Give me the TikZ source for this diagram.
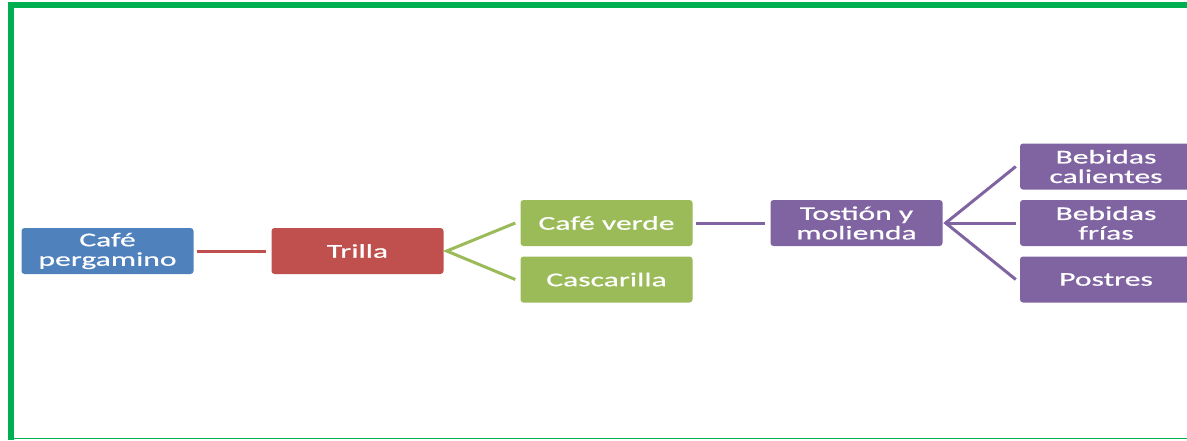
\documentclass[tikz,border=0pt]{standalone}
\usepackage{fontspec}
\newfontfamily\boxfont[FakeStretch=1.62,FakeBold=0.6]{Carlito}
\definecolor{cblue}{HTML}{4F81BD}
\definecolor{cred}{HTML}{C0504D}
\definecolor{cgreen}{HTML}{9BBB59}
\definecolor{cpurple}{HTML}{8064A2}
\definecolor{frame}{HTML}{00B050}
\tikzset{
  box/.style={rectangle, rounded corners=3pt, minimum width=172pt, minimum height=46pt,
    inner sep=0pt, text=white, align=center, font=\boxfont\fontsize{19.5}{19.5}\selectfont},
  link/.style={line width=3pt}
}
\begin{document}
\begin{tikzpicture}[x=1pt,y=-1pt]
\useasboundingbox (0,0) rectangle (1187,440);
% frame
\fill[frame] (8,2) rectangle (1187,8);
\fill[frame] (8,2) rectangle (14,440);
\fill[frame] (14,437.6) rectangle (1187,439.2);
% nodes
\node[box, fill=cblue] (perg) at (107.5,251) {Café\\pergamino};
\node[box, fill=cred] (trilla) at (357.5,251) {Trilla};
\node[box, fill=cgreen] (verde) at (606.5,223) {Café verde};
\node[box, fill=cgreen] (casc) at (606.5,279.5) {Cascarilla};
\node[box, fill=cpurple] (tost) at (856.5,223) {Tostión y\\molienda};
\node[box, fill=cpurple] (cal) at (1106,166.5) {Bebidas\\calientes};
\node[box, fill=cpurple] (fri) at (1106,223) {Bebidas\\frías};
\node[box, fill=cpurple] (pos) at (1106,279.5) {Postres};
% connectors
\coordinate (tfork) at ([xshift=3pt]trilla.east);
\coordinate (pfork) at ([xshift=3pt]tost.east);
\draw[link, cred] ([xshift=3pt]perg.east) -- ([xshift=-5pt]trilla.west);
\draw[link, cgreen] ([xshift=-5pt]verde.west) -- (tfork) -- ([xshift=-5pt]casc.west);
\draw[link, cpurple] ([xshift=3pt]verde.east) -- ([xshift=-5pt]tost.west);
\draw[link, cpurple] ([xshift=-4pt]cal.west) -- (pfork) -- ([xshift=-4pt]pos.west);
\draw[link, cpurple] (pfork) -- ([xshift=-4pt]fri.west);
\end{tikzpicture}
\end{document}
